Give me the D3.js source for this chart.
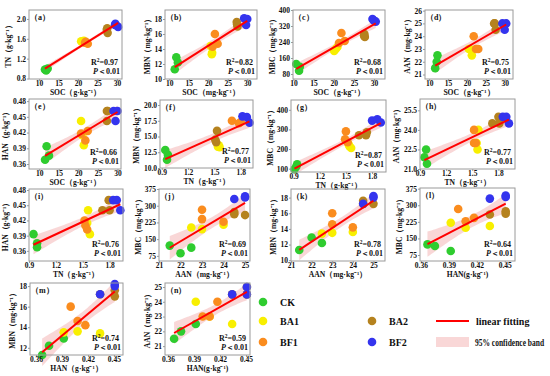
<!DOCTYPE html>
<html>
<head>
<meta charset="utf-8">
<script src="https://cdn.jsdelivr.net/npm/d3@7"></script>
<style>
  body { margin: 0; background: #fff; }
  svg { font-family: "Liberation Serif", "Times New Roman", serif; font-weight: bold; }
</style>
</head>
<body>
<svg id="chart" width="550" height="376"></svg>
<script>
// treatment of each of the 15 samples (3 replicates x 5 treatments)
var groups = ['CK','CK','CK','BA1','BA1','BA1','BA2','BA2','BA2','BF1','BF1','BF1','BF2','BF2','BF2']
var groupColor = {CK: '#2fcc2f', BA1: '#f8ef00', BA2: '#b5821e', BF1: '#fa8c1e', BF2: '#3434ee'}

// values (x, y)
var socA = [11.5,11.8,12.2, 20.8,21.2,21.5, 27.5,27.6,27.4, 21.8,22.5,22.0, 29.6,30.3,29.5]
var tnA  = [0.98,0.96,1.00, 1.55,1.53,1.56, 1.81,1.72,1.78, 1.52,1.50,1.54, 1.90,1.84,1.88]
var socB = [11.8,12.2,11.4, 20.6,21.0,20.9, 27.3,27.5,27.4, 21.7,22.4,21.1, 29.2,30.0,29.7]
var mbnB = [12.9,12.2,11.3, 14.4,13.5,13.3, 17.6,17.0,17.3, 16.0,14.7,14.3, 18.1,18.0,17.2]
var socC = [10.7,11.6,11.4, 20.5,20.9,20.1, 27.6,27.7,27.5, 21.9,21.3,22.7, 29.6,30.4,29.9]
var mbcC = [130,116,96, 205,215,195, 280,265,272, 285,235,245, 355,342,348]
var socD = [11.6,12.0,12.2, 20.8,21.3,20.5, 27.2,27.6,27.4, 21.8,22.4,23.0, 29.4,30.0,30.4]
var aanD = [21.5,22.0,22.5, 23.0,22.5,23.0, 25.0,24.5,25.0, 24.0,23.0,23.0, 25.0,24.5,25.0]
var socE = [11.9,11.5,12.5, 20.7,21.4,21.0, 27.3,27.3,27.5, 20.7,21.8,22.4, 29.0,30.0,29.5]
var hanE = [0.394,0.368,0.376, 0.442,0.396,0.415, 0.461,0.442,0.461, 0.418,0.405,0.423, 0.461,0.461,0.442]
var tnF  = [0.94,0.97,0.96, 1.55,1.56,1.54, 1.53,1.51,1.52, 1.70,1.78,1.80, 1.82,1.87,1.90]
var mbnF = [12.85,12.1,11.3, 13.6,13.3,13.4, 15.9,14.5,14.1, 17.5,17.1,17.3, 18.2,18.1,17.2]
var tnG  = [0.91,0.94,0.93, 1.53,1.56,1.54, 1.65,1.73,1.74, 1.50,1.49,1.52, 1.80,1.86,1.90]
var mbcG = [97,122,110, 225,205,215, 270,270,285, 290,250,235, 345,352,335]
var tnH  = [0.97,0.95,0.98, 1.57,1.56,1.55, 1.73,1.80,1.81, 1.52,1.52,1.54, 1.85,1.89,1.92]
var aanH = [22.5,21.9,21.4, 24.0,22.5,23.0, 24.5,25.0,24.5, 24.0,23.0,23.0, 25.0,25.0,24.5]
var tnI  = [0.95,0.99,0.99, 1.56,1.58,1.55, 1.72,1.79,1.80, 1.52,1.53,1.55, 1.84,1.88,1.92]
var hanI = [0.393,0.375,0.367, 0.440,0.393,0.415, 0.440,0.460,0.440, 0.420,0.410,0.402, 0.460,0.460,0.440]
var aanJ = [21.5,22.0,22.5, 22.5,23.0,24.0, 24.5,24.5,25.0, 23.0,23.0,24.0, 24.5,25.0,25.0]
var mbcJ = [121,87,112, 202,195,215, 262,272,258, 282,240,228, 330,342,337]
var aanK = [21.4,22.0,22.5, 22.5,24.0,23.0, 24.5,24.5,25.0, 23.0,23.0,24.0, 24.5,25.0,25.0]
var mbnK = [11.3,12.9,12.2, 13.4,13.6,13.5, 17.6,17.2,17.2, 16.0,14.6,14.2, 17.2,18.2,18.0]
var hanL = [0.367,0.375,0.392, 0.392,0.408,0.434, 0.434,0.451,0.451, 0.400,0.408,0.417, 0.434,0.451,0.451]
var mbcL = [123,116,93, 221,198,206, 258,273,262, 283,228,243, 330,344,337]
var hanM = [0.367,0.375,0.392, 0.392,0.408,0.434, 0.434,0.451,0.451, 0.400,0.408,0.417, 0.434,0.451,0.451]
var mbnM = [11.3,12.2,12.9, 13.5,13.6,13.4, 17.2,17.6,17.0, 16.0,14.6,14.2, 17.2,18.2,18.0]
var hanN = [0.367,0.375,0.392, 0.392,0.408,0.434, 0.434,0.451,0.451, 0.400,0.408,0.417, 0.434,0.451,0.451]
var aanN = [21.5,22.0,22.5, 24.0,23.0,22.5, 24.5,25.0,24.5, 23.0,23.0,24.0, 24.5,25.0,24.5]

var r2Values = ['0.97','0.82','0.68','0.75','0.66','0.77','0.87','0.77','0.76','0.69','0.78','0.64','0.74','0.59']

var socTicks = [10,15,20,25,30], tnTicks = [0.9,1.2,1.5,1.8], aanTicks = [21,22,23,24,25], hanTicks = [0.36,0.39,0.42,0.45]

var U = '（g·kg⁻¹）', MU = '（mg·kg⁻¹）'

// panel setup: box = [left, top, right, bottom] in px
var panels = [
  {id:'a', x:socA, y:tnA,  box:[29,10,122,79],  xd:[7.4,31.3],  yd:[0.79,2.18], xt:socTicks, yt:[0.8,1.2,1.6,2.0], yf:'.1f', xl:'SOC'+U, yl:'TN'+U},
  {id:'b', x:socB, y:mbnB, box:[165,10,257,79], xd:[8.9,32.5],  yd:[10,19.2],   xt:socTicks, yt:[10,12,14,16,18], yf:'d', xl:'SOC'+MU, yl:'MBN'+MU},
  {id:'c', x:socC, y:mbcC, box:[293,10,385,79], xd:[9.9,32.7],  yd:[55,400],    xt:socTicks, yt:[80,160,240,320,400], yf:'d', xl:'SOC'+U, yl:'MBC'+MU},
  {id:'d', x:socD, y:aanD, box:[425,10,513,79], xd:[8.9,32.2],  yd:[20.65,26.05], xt:socTicks, yt:[21,22,23,24,25,26], yf:'d', xl:'SOC'+U, yl:'AAN'+MU},
  {id:'e', x:socE, y:hanE, box:[29,99,121,169], xd:[7.4,30.9],  yd:[0.3505,0.484], xt:socTicks, yt:[0.36,0.39,0.42,0.45,0.48], yf:'.2f', xl:'SOC'+U, yl:'HAN'+U},
  {id:'f', x:tnF,  y:mbnF, box:[160,100,253,168], xd:[0.88,1.94], yd:[10,20.8], xt:tnTicks, yt:[10,12.5,15,17.5,20], yf:'.1f', xl:'TN'+U, yl:'MBN'+MU},
  {id:'g', x:tnG,  y:mbcG, box:[291,100,386,172], xd:[0.87,1.96], yd:[83,450],  xt:tnTicks, yt:[100,200,300,400], yf:'d', xl:'TN'+U, yl:'MBC'+MU},
  {id:'h', x:tnH,  y:aanH, box:[420,99,515,169], xd:[0.9,1.99],  yd:[21,26.37], xt:tnTicks, yt:[21,22.5,24,25.5], yf:'.1f', xl:'TN'+U, yl:'AAN'+MU},
  {id:'i', x:tnI,  y:hanI, box:[29,189,123,261], xd:[0.9,1.95],  yd:[0.34,0.482], xt:tnTicks, yt:[0.36,0.39,0.42,0.45,0.48], yf:'.2f', xl:'TN'+U, yl:'HAN'+U},
  {id:'j', x:aanJ, y:mbcJ, box:[159,189,250,261], xd:[21,25.23], yd:[52,375],  xt:aanTicks, yt:[75,150,225,300,375], yf:'d', xl:'AAN'+MU, yl:'MBC'+MU},
  {id:'k', x:aanK, y:mbnK, box:[291,189,385,261], xd:[21,25.56], yd:[9.9,19.1], xt:aanTicks, yt:[10,12,14,16,18], yf:'d', xl:'AAN'+MU, yl:'MBN'+MU},
  {id:'l', x:hanL, y:mbcL, box:[420,188,515,261], xd:[0.359,0.461], yd:[48,378], xt:hanTicks, yt:[75,150,225,300,375], yf:'d', xl:'HAN(g·kg⁻¹)', yl:'MBC'+MU},
  {id:'m', x:hanM, y:mbnM, box:[30,283,123,355], xd:[0.353,0.4605], yd:[11.3,18.3], xt:hanTicks, yt:[12,14,16,18], yf:'d', xl:'HAN'+U, yl:'MBN'+MU},
  {id:'n', x:hanN, y:aanN, box:[165,283,250,355], xd:[0.3565,0.4546], yd:[20.4,25.27], xt:hanTicks, yt:[21,22,23,24,25], yf:'d', xl:'HAN(g·kg⁻¹)', yl:'AAN'+MU}
]

var svg = d3.select('#chart')
var TICK_SIZE = 7.5, TITLE_SIZE = 7.6, BAND = '#f7c9c9'

function fit(xs, ys){
  var n = xs.length, mx = d3.mean(xs), my = d3.mean(ys)
  var sxx = d3.sum(xs, function(v){ return (v - mx) * (v - mx) })
  var sxy = d3.sum(xs, function(v, i){ return (v - mx) * (ys[i] - my) })
  var b = sxy / sxx, a = my - b * mx
  var sse = d3.sum(xs, function(v, i){ var e = ys[i] - (a + b * v); return e * e })
  var s = Math.sqrt(sse / (n - 2)), t = 2.16
  return {a: a, b: b, ci: function(x){ return t * s * Math.sqrt(1 / n + (x - mx) * (x - mx) / sxx) }}
}

panels.forEach(function(p, pi){
  var L = p.box[0], T = p.box[1], R = p.box[2], B = p.box[3]
  var x = d3.scaleLinear().domain(p.xd).range([L, R])
  var y = d3.scaleLinear().domain(p.yd).range([B, T])
  var g = svg.append('g')

  // confidence band + fit
  var f = fit(p.x, p.y)
  var x0 = d3.min(p.x), x1 = d3.max(p.x)
  var xs = d3.range(0, 41).map(function(i){ return x0 + (x1 - x0) * i / 40 })
  var area = d3.area()
    .x(function(v){ return x(v) })
    .y0(function(v){ return y(f.a + f.b * v - f.ci(v)) })
    .y1(function(v){ return y(f.a + f.b * v + f.ci(v)) })
  g.append('path').attr('d', area(xs)).attr('fill', BAND).attr('opacity', 0.75)

  // points
  g.selectAll('circle').data(p.x).enter().append('circle')
    .attr('cx', function(v){ return x(v) })
    .attr('cy', function(v, i){ return y(p.y[i]) })
    .attr('r', 4.3)
    .attr('fill', function(v, i){ return groupColor[groups[i]] })

  g.append('line')
    .attr('x1', x(x0)).attr('y1', y(f.a + f.b * x0))
    .attr('x2', x(x1)).attr('y2', y(f.a + f.b * x1))
    .attr('stroke', '#ff0000').attr('stroke-width', 2)

  // frame
  g.append('rect').attr('x', L).attr('y', T).attr('width', R - L).attr('height', B - T)
    .attr('fill', 'none').attr('stroke', '#9a9a9a').attr('stroke-width', 1)

  var xfmt = p.xt[0] < 1 ? (p.xt[1] < 0.5 ? '.2f' : '.1f') : 'd'
  g.append('g').attr('transform', 'translate(0,' + B + ')')
    .call(d3.axisBottom(x).tickValues(p.xt).tickSize(2).tickPadding(0).tickFormat(d3.format(xfmt)))
  g.append('g').attr('transform', 'translate(' + L + ',0)')
    .call(d3.axisLeft(y).tickValues(p.yt).tickSize(2).tickPadding(1).tickFormat(d3.format(p.yf)))
  g.selectAll('.domain').remove()
  g.selectAll('.tick line').attr('stroke', '#9a9a9a')
  g.selectAll('.tick text').attr('font-size', TICK_SIZE).attr('font-family', 'Liberation Serif')
    .attr('font-weight', 'bold').attr('fill', '#111')

  // titles
  var maxChars = d3.max(p.yt, function(v){ return d3.format(p.yf)(v).length })
  g.append('text').text(p.xl).attr('x', (L + R) / 2).attr('y', B + 16)
    .attr('text-anchor', 'middle').attr('font-size', TITLE_SIZE).attr('fill', '#111')
  g.append('text').text(p.yl)
    .attr('transform', 'translate(' + (L - maxChars * 2.7 - 10) + ',' + ((T + B) / 2) + ') rotate(-90)')
    .attr('text-anchor', 'middle').attr('font-size', TITLE_SIZE).attr('fill', '#111')

  g.append('text').text('（' + p.id + '）').attr('x', L + 1).attr('y', T + 10)
    .attr('font-size', 8).attr('fill', '#111')

  var rt = g.append('text').attr('x', R - 31).attr('y', B - 14).attr('font-size', 8).attr('fill', '#111')
  rt.append('tspan').text('R')
  rt.append('tspan').text('2').attr('dy', -3).attr('font-size', 5.5)
  rt.append('tspan').text('=' + r2Values[pi]).attr('dy', 3)
  var pt = g.append('text').attr('x', R - 29).attr('y', B - 5).attr('font-size', 8).attr('fill', '#111')
  pt.append('tspan').text('P').attr('font-style', 'italic')
  pt.append('tspan').text('＜0.01')
})

// legend
var legendDots = [
  {k: 'CK', x: 263, y: 302}, {k: 'BA1', x: 263, y: 321}, {k: 'BA2', x: 372, y: 321},
  {k: 'BF1', x: 263, y: 342}, {k: 'BF2', x: 372, y: 342}
]
var lg = svg.append('g').attr('font-size', 10).attr('fill', '#111')
legendDots.forEach(function(d){
  lg.append('circle').attr('cx', d.x).attr('cy', d.y).attr('r', 4.3).attr('fill', groupColor[d.k])
  lg.append('text').text(d.k).attr('x', d.x + 17).attr('y', d.y + 4)
})
lg.append('line').attr('x1', 436).attr('x2', 469).attr('y1', 321).attr('y2', 321).attr('stroke', '#ff0000').attr('stroke-width', 2)
lg.append('text').text('linear fitting').attr('x', 476).attr('y', 325)
lg.append('rect').attr('x', 436).attr('y', 337).attr('width', 33).attr('height', 10).attr('fill', BAND).attr('opacity', 0.75)
lg.append('text').text('95% confidence band')
  .attr('transform', 'translate(475,346) scale(0.75,1)')
</script>
</body>
</html>
